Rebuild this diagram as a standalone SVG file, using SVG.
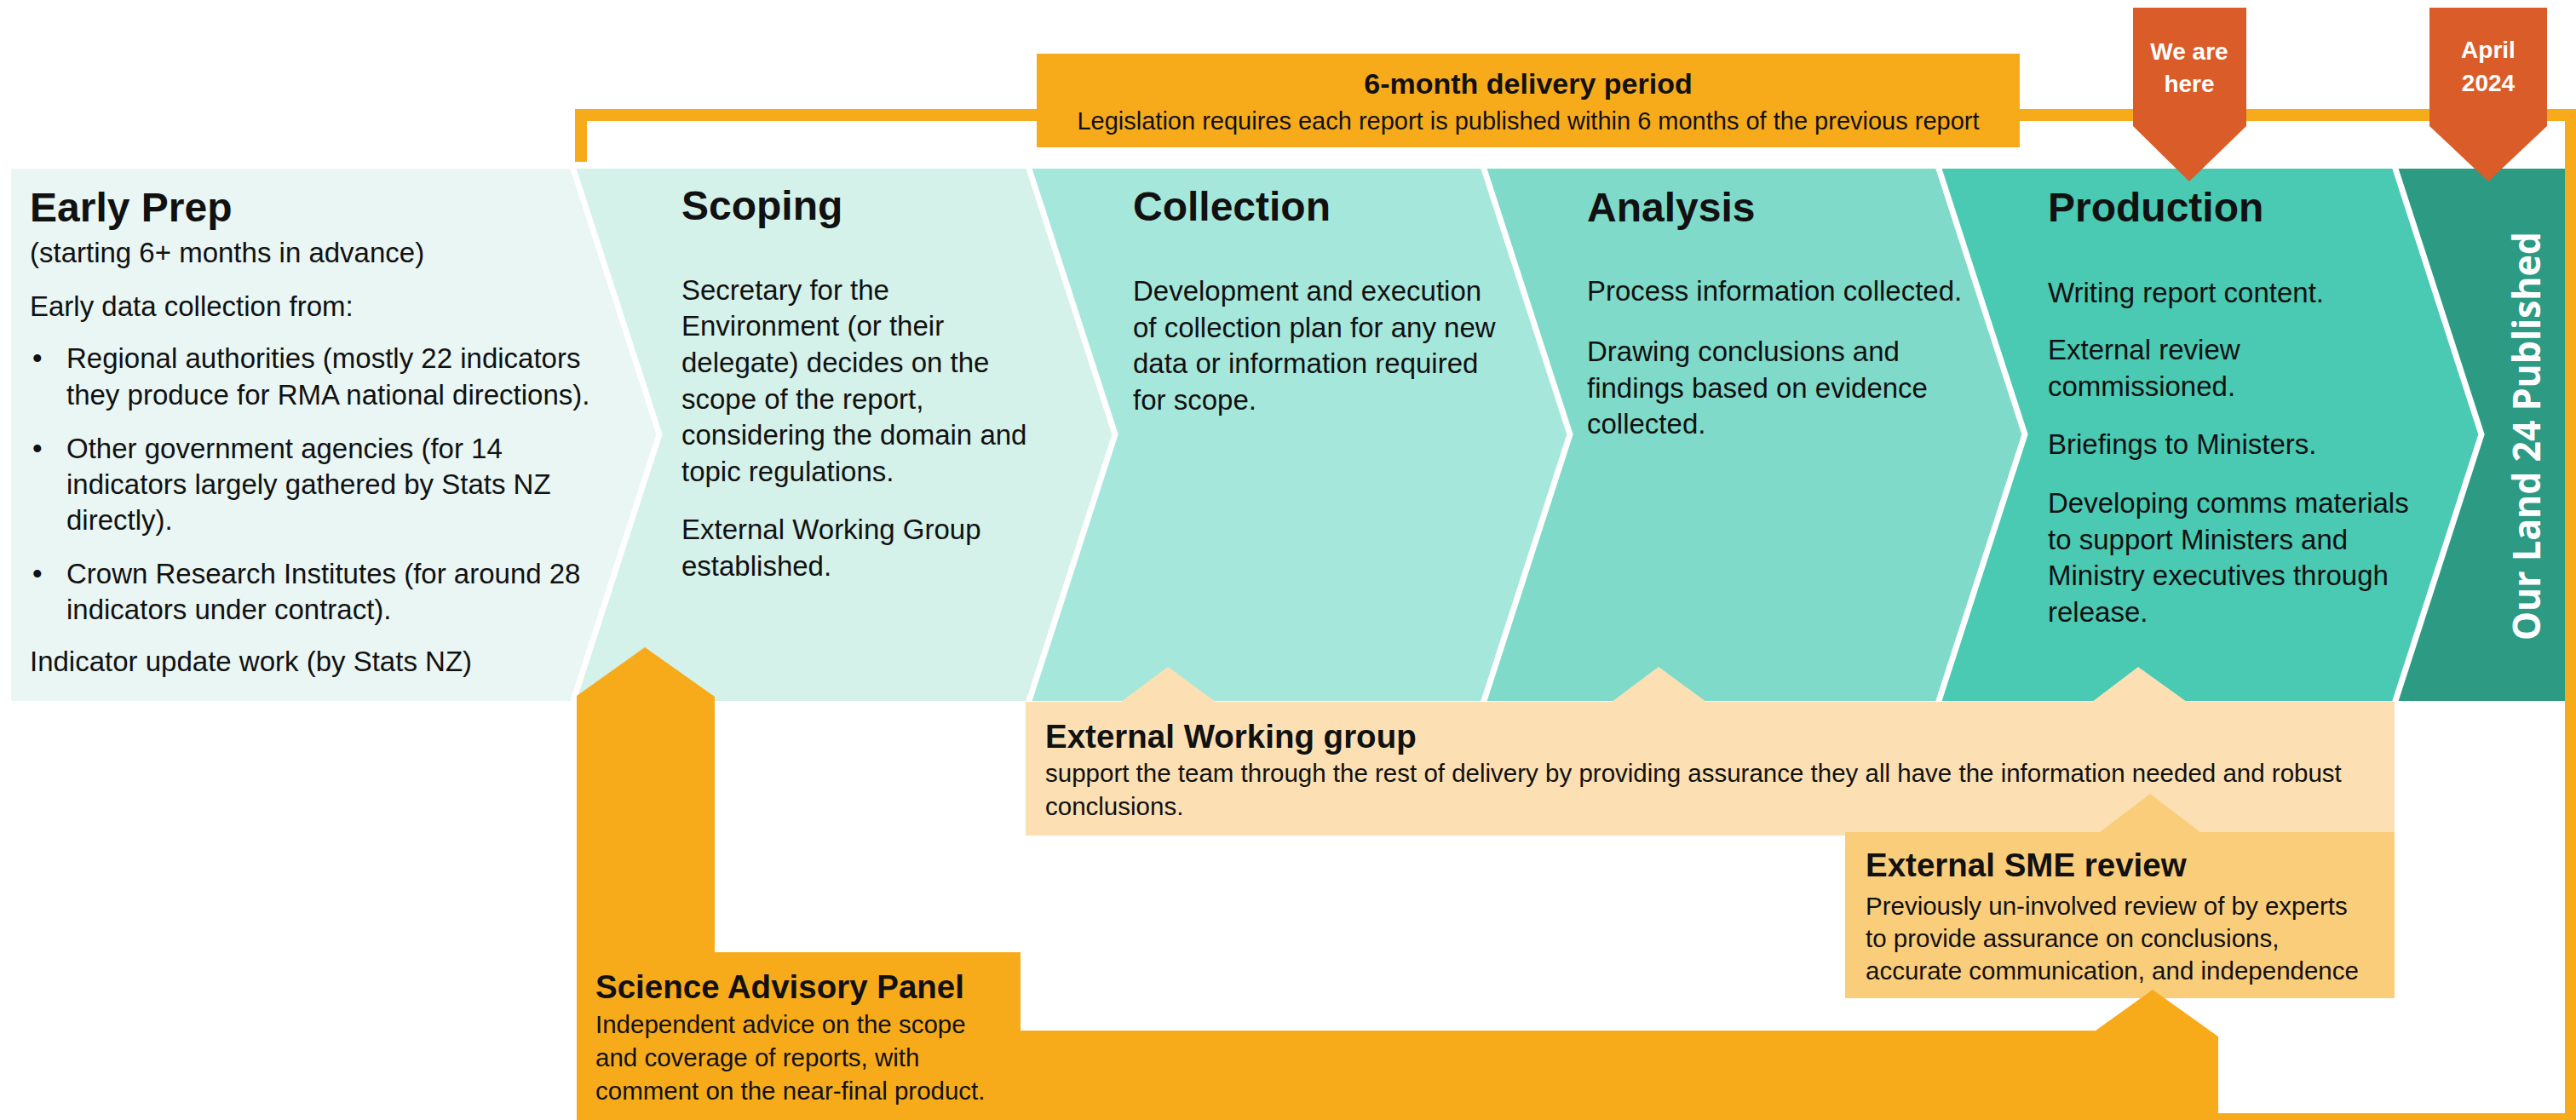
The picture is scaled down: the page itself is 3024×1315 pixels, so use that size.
<svg xmlns="http://www.w3.org/2000/svg" width="3024" height="1315" viewBox="0 0 3024 1315">
<style>
text{font-family:"Liberation Sans",Arial,sans-serif;fill:#111}
.h{font-weight:bold;font-size:48px}
.b{font-size:33px}
.eh{font-weight:bold;font-size:38.5px}
.eb{font-size:29.5px}
.mk{font-weight:bold;font-size:28px;fill:#fff;text-anchor:middle}
.sep{fill:none;stroke:#fff;stroke-width:7}
.orange{fill:#F8AB1A}
.marker{fill:#D95C29}
</style>
<rect width="3024" height="1315" fill="#fff"/>

<g id="early-prep">
  <path fill="#E9F6F4" d="M13,198 L672,198 L774,510 L672,823 L13,823 Z"/>
  <text class="h" x="35" y="260">Early Prep</text>
  <text class="b" x="35" y="308">(starting 6+ months in advance)</text>
  <text class="b" x="35" y="371">Early data collection from:</text>
  <text class="b" x="38" y="432">•</text>
  <text class="b" x="78" y="432">Regional authorities (mostly 22 indicators</text>
  <text class="b" x="78" y="475">they produce for RMA national directions).</text>
  <text class="b" x="38" y="538">•</text>
  <text class="b" x="78" y="538">Other government agencies (for 14</text>
  <text class="b" x="78" y="580">indicators largely gathered by Stats NZ</text>
  <text class="b" x="78" y="622">directly).</text>
  <text class="b" x="38" y="685">•</text>
  <text class="b" x="78" y="685">Crown Research Institutes (for around 28</text>
  <text class="b" x="78" y="727">indicators under contract).</text>
  <text class="b" x="35" y="788">Indicator update work (by Stats NZ)</text>
</g>

<g id="scoping">
  <path fill="#D4F1EA" d="M672,198 L1207,198 L1309,510 L1207,823 L672,823 L774,510 Z"/>
  <text class="h" x="800" y="258">Scoping</text>
  <text class="b" x="800" y="352">Secretary for the</text>
  <text class="b" x="800" y="394">Environment (or their</text>
  <text class="b" x="800" y="437">delegate) decides on the</text>
  <text class="b" x="800" y="480">scope of the report,</text>
  <text class="b" x="800" y="522">considering the domain and</text>
  <text class="b" x="800" y="565">topic regulations.</text>
  <text class="b" x="800" y="633">External Working Group</text>
  <text class="b" x="800" y="676">established.</text>
</g>

<g id="collection">
  <path fill="#A6E7DC" d="M1207,198 L1741,198 L1843,510 L1741,823 L1207,823 L1309,510 Z"/>
  <text class="h" x="1330" y="259">Collection</text>
  <text class="b" x="1330" y="353">Development and execution</text>
  <text class="b" x="1330" y="396">of collection plan for any new</text>
  <text class="b" x="1330" y="438">data or information required</text>
  <text class="b" x="1330" y="481">for scope.</text>
</g>

<g id="analysis">
  <path fill="#7FDAC9" d="M1741,198 L2275,198 L2377,510 L2275,823 L1741,823 L1843,510 Z"/>
  <text class="h" x="1863" y="260">Analysis</text>
  <text class="b" x="1863" y="353">Process information collected.</text>
  <text class="b" x="1863" y="424">Drawing conclusions and</text>
  <text class="b" x="1863" y="467">findings based on evidence</text>
  <text class="b" x="1863" y="509">collected.</text>
</g>

<g id="production">
  <path fill="#4AC9B3" d="M2275,198 L2811,198 L2913,510 L2811,823 L2275,823 L2377,510 Z"/>
  <text class="h" x="2404" y="260">Production</text>
  <text class="b" x="2404" y="355">Writing report content.</text>
  <text class="b" x="2404" y="422">External review</text>
  <text class="b" x="2404" y="465">commissioned.</text>
  <text class="b" x="2404" y="533">Briefings to Ministers.</text>
  <text class="b" x="2404" y="602">Developing comms materials</text>
  <text class="b" x="2404" y="645">to support Ministers and</text>
  <text class="b" x="2404" y="687">Ministry executives through</text>
  <text class="b" x="2404" y="730">release.</text>
</g>

<g id="published">
  <path fill="#2D9A84" d="M2811,198 L3012,198 L3012,823 L2811,823 L2913,510 Z"/>
  <text transform="translate(2982,752) rotate(-90)" x="0" y="0" textLength="480" lengthAdjust="spacingAndGlyphs" style="font-family:'Open Sans','Noto Sans',sans-serif;font-weight:bold;font-size:44px;fill:#fff">Our Land 24 Published</text>
</g>

<g id="separators">
  <polyline class="sep" points="672,195 774,510 672,826"/>
  <polyline class="sep" points="1207,195 1309,510 1207,826"/>
  <polyline class="sep" points="1741,195 1843,510 1741,826"/>
  <polyline class="sep" points="2275,195 2377,510 2275,826"/>
  <polyline class="sep" points="2811,195 2913,510 2811,826"/>
</g>

<g id="external-working-group">
  <path fill="#FCE0B3" d="M1204,824 L1316,824 L1371,783 L1427,824 L1892,824 L1947,783 L2003,824 L2456,824 L2510,783 L2567,824 L2811,824 L2811,981 L1204,981 Z"/>
  <text class="eh" x="1227" y="878">External Working group</text>
  <text class="eb" x="1227" y="918">support the team through the rest of delivery by providing assurance they all have the information needed and robust</text>
  <text class="eb" x="1227" y="957">conclusions.</text>
</g>

<g id="external-sme-review">
  <path fill="#FACD7B" d="M2166,977 L2465,977 L2524,932 L2583,977 L2811,977 L2811,1172 L2166,1172 Z"/>
  <text class="eh" x="2190" y="1029">External SME review</text>
  <text class="eb" x="2190" y="1074">Previously un-involved review of by experts</text>
  <text class="eb" x="2190" y="1112">to provide assurance on conclusions,</text>
  <text class="eb" x="2190" y="1150">accurate communication, and independence</text>
</g>

<g id="connectors">
  <path d="M682,190 L682,135 L3018,135 L3018,1314 L2600,1314" fill="none" stroke="#F8AB1A" stroke-width="14"/>
  <path class="orange" d="M677,1315 L677,817 L757,760 L839,818 L839,1118 L1198,1118 L1198,1210 L2460,1210 L2527,1162 L2604,1217 L2604,1315 Z"/>
</g>

<g id="science-advisory-panel">
  <text class="eh" x="699" y="1172">Science Advisory Panel</text>
  <text class="eb" x="699" y="1213">Independent advice on the scope</text>
  <text class="eb" x="699" y="1252">and coverage of reports, with</text>
  <text class="eb" x="699" y="1291">comment on the near-final product.</text>
</g>

<g id="delivery-period">
  <rect class="orange" x="1217" y="63" width="1154" height="110"/>
  <text x="1794" y="110" text-anchor="middle" style="font-weight:bold;font-size:34px">6-month delivery period</text>
  <text x="1794" y="152" text-anchor="middle" style="font-size:29px">Legislation requires each report is published within 6 months of the previous report</text>
</g>

<g id="we-are-here">
  <path class="marker" d="M2504,9 L2637,9 L2637,148 L2570,213 L2504,148 Z"/>
  <text class="mk" x="2570" y="70">We are</text>
  <text class="mk" x="2570" y="108">here</text>
</g>

<g id="april-2024">
  <path class="marker" d="M2852,9 L2990,9 L2990,148 L2921,213 L2852,148 Z"/>
  <text class="mk" x="2921" y="68">April</text>
  <text class="mk" x="2921" y="107">2024</text>
</g>
</svg>
